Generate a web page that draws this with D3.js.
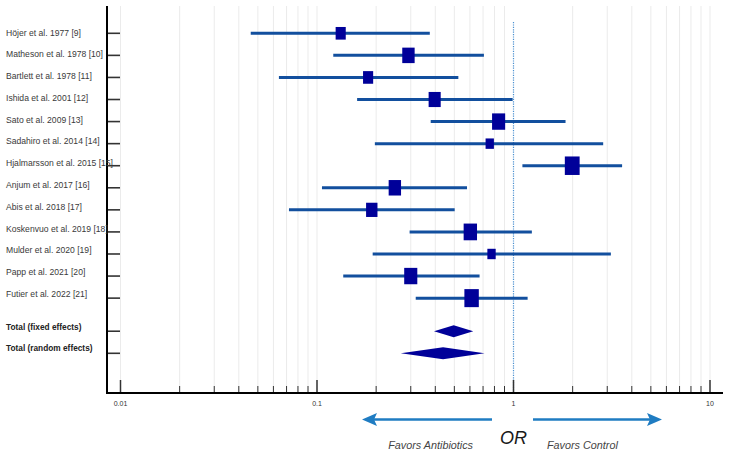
<!DOCTYPE html>
<html>
<head>
<meta charset="utf-8">
<script src="https://cdn.jsdelivr.net/npm/d3@7"></script>
<style>
  html, body { margin: 0; padding: 0; background: #ffffff; }
  svg { display: block; font-family: "Liberation Sans", Arial, sans-serif; }
</style>
</head>
<body>
<svg id="chart" width="729" height="455"></svg>
<script>
// ---------- data ----------
const studies = [
  "Höjer et al. 1977 [9]",
  "Matheson et al. 1978 [10]",
  "Bartlett et al. 1978 [11]",
  "Ishida et al. 2001 [12]",
  "Sato et al. 2009 [13]",
  "Sadahiro et al. 2014 [14]",
  "Hjalmarsson et al. 2015 [15]",
  "Anjum et al. 2017 [16]",
  "Abis et al. 2018 [17]",
  "Koskenvuo et al. 2019 [18]",
  "Mulder et al. 2020 [19]",
  "Papp et al. 2021 [20]",
  "Futier et al. 2022 [21]"
];
const orValues = [0.132, 0.292, 0.182, 0.397, 0.84, 0.757, 1.99, 0.249, 0.190, 0.603, 0.773, 0.300, 0.612];
const ciLower  = [0.046, 0.121, 0.064, 0.160, 0.379, 0.197, 1.11, 0.106, 0.072, 0.296, 0.192, 0.136, 0.318];
const ciUpper  = [0.375, 0.707, 0.524, 0.99, 1.84, 2.86, 3.57, 0.580, 0.502, 1.24, 3.13, 0.672, 1.18];
const weights  = [5.6, 8.4, 5.6, 8.0, 9.4, 3.8, 12.0, 8.4, 7.1, 9.8, 3.8, 9.4, 11.4];

const totals      = ["Total (fixed effects)", "Total (random effects)"];
const totalOR     = [0.496, 0.438];
const totalLower  = [0.394, 0.267];
const totalUpper  = [0.624, 0.712];

const xTickMajor = [0.01, 0.1, 1, 10];
const xTickLabels = ["0.01", "0.1", "1", "10"];
const axisTitle = "OR";
const leftNote = "Favors Antibiotics";
const rightNote = "Favors Control";

// ---------- layout ----------
const svg = d3.select("#chart");
const plotLeft = 107, plotRight = 723, plotTop = 6, plotBottom = 393;

const x = d3.scaleLog().domain([0.01, 10]).range([120.5, 710]);
const y = d3.scaleLinear().domain([0, 14.5]).range([33.3, 353.3]);
const yLabel = d3.scaleLinear().domain([0, 14.5]).range([32.5, 348.5]);
const boxW = d3.scaleSqrt().domain([0, d3.max(weights)]).range([0, 14.8]);

const rowsPos = studies.map((d, i) => i).concat(totals.map((d, j) => 13.5 + j));

// minor ticks (1..9 per decade)
const minorTicks = [];
[0.01, 0.1, 1].forEach(dec => { for (let k = 2; k <= 9; k++) minorTicks.push(+(dec * k).toPrecision(3)); });

// gridlines
svg.append("g").selectAll("line").data(minorTicks.concat([0.01, 0.1, 10])).join("line")
  .attr("x1", d => x(d)).attr("x2", d => x(d))
  .attr("y1", plotTop).attr("y2", plotBottom)
  .attr("stroke", "#ebebeb").attr("stroke-width", 1);

// reference line at OR = 1
svg.append("line")
  .attr("x1", x(1)).attr("x2", x(1))
  .attr("y1", 22).attr("y2", plotBottom)
  .attr("stroke", "#4a90d0").attr("stroke-width", 1.2)
  .attr("stroke-dasharray", "1.2,1.2");

// bottom axis ticks
svg.append("g").selectAll("line").data(minorTicks).join("line")
  .attr("x1", d => x(d)).attr("x2", d => x(d))
  .attr("y1", plotBottom - 7).attr("y2", plotBottom)
  .attr("stroke", "#333").attr("stroke-width", 1);
svg.append("g").selectAll("line").data(xTickMajor).join("line")
  .attr("x1", d => x(d)).attr("x2", d => x(d))
  .attr("y1", plotBottom - 13).attr("y2", plotBottom)
  .attr("stroke", "#333").attr("stroke-width", 1.5);
svg.append("g").selectAll("text").data(xTickMajor).join("text")
  .attr("x", d => x(d)).attr("y", plotBottom + 13)
  .attr("text-anchor", "middle")
  .attr("font-size", 7).attr("fill", "#333")
  .text((d, i) => xTickLabels[i]);

// left axis ticks
svg.append("g").selectAll("line").data(rowsPos).join("line")
  .attr("x1", plotLeft).attr("x2", plotLeft + 13)
  .attr("y1", d => y(d)).attr("y2", d => y(d))
  .attr("stroke", "#333").attr("stroke-width", 1.6);

// axis lines
svg.append("line").attr("x1", plotLeft).attr("x2", plotLeft)
  .attr("y1", plotTop).attr("y2", plotBottom + 1)
  .attr("stroke", "#000").attr("stroke-width", 2);
svg.append("line").attr("x1", plotLeft - 1).attr("x2", plotRight)
  .attr("y1", plotBottom).attr("y2", plotBottom)
  .attr("stroke", "#000").attr("stroke-width", 2);

// study labels
svg.append("g").selectAll("text").data(studies).join("text")
  .attr("x", 6).attr("y", (d, i) => yLabel(i))
  .attr("dy", "0.35em")
  .attr("font-size", 8.6).attr("fill", "#3a3a3a")
  .text(d => d);
svg.append("g").selectAll("text").data(totals).join("text")
  .attr("x", 6).attr("y", (d, j) => yLabel(13.5 + j))
  .attr("dy", "0.35em")
  .attr("font-size", 8.3).attr("font-weight", "bold").attr("fill", "#222")
  .text(d => d);

// CI lines
svg.append("g").selectAll("line").data(studies).join("line")
  .attr("x1", (d, i) => x(ciLower[i])).attr("x2", (d, i) => x(ciUpper[i]))
  .attr("y1", (d, i) => y(i)).attr("y2", (d, i) => y(i))
  .attr("stroke", "#124f9e").attr("stroke-width", 3);

// squares
svg.append("g").selectAll("rect").data(studies).join("rect")
  .attr("x", (d, i) => x(orValues[i]) - boxW(weights[i]) / 2)
  .attr("y", (d, i) => y(i) - boxW(weights[i]) * 1.25 / 2)
  .attr("width", (d, i) => boxW(weights[i]))
  .attr("height", (d, i) => boxW(weights[i]) * 1.25)
  .attr("fill", "#000099");

// diamonds
svg.append("g").selectAll("path").data(totals).join("path")
  .attr("d", (d, j) => {
    const yc = y(13.5 + j);
    return `M${x(totalLower[j])},${yc} L${x(totalOR[j])},${yc - 6} L${x(totalUpper[j])},${yc} L${x(totalOR[j])},${yc + 6} Z`;
  })
  .attr("fill", "#000099");

// arrows
const arrowY = 419.5, arrowColor = "#1f7cc2";
svg.append("line").attr("x1", 492).attr("x2", 372).attr("y1", arrowY).attr("y2", arrowY)
  .attr("stroke", arrowColor).attr("stroke-width", 2.6);
svg.append("path").attr("d", `M362,${arrowY} L377,${arrowY - 6.5} L374,${arrowY} L377,${arrowY + 6.5} Z`)
  .attr("fill", arrowColor);
svg.append("line").attr("x1", 533).attr("x2", 652).attr("y1", arrowY).attr("y2", arrowY)
  .attr("stroke", arrowColor).attr("stroke-width", 2.6);
svg.append("path").attr("d", `M662,${arrowY} L647,${arrowY - 6.5} L650,${arrowY} L647,${arrowY + 6.5} Z`)
  .attr("fill", arrowColor);

svg.append("text").attr("x", x(1)).attr("y", 444)
  .attr("text-anchor", "middle").attr("font-size", 18).attr("font-style", "italic")
  .attr("fill", "#1a1a1a").text(axisTitle);
svg.append("text").attr("x", 473).attr("y", 449)
  .attr("text-anchor", "end").attr("font-size", 10.8).attr("font-style", "italic")
  .attr("fill", "#444").text(leftNote);
svg.append("text").attr("x", 547).attr("y", 449)
  .attr("text-anchor", "start").attr("font-size", 10.8).attr("font-style", "italic")
  .attr("fill", "#444").text(rightNote);
</script>
</body>
</html>
